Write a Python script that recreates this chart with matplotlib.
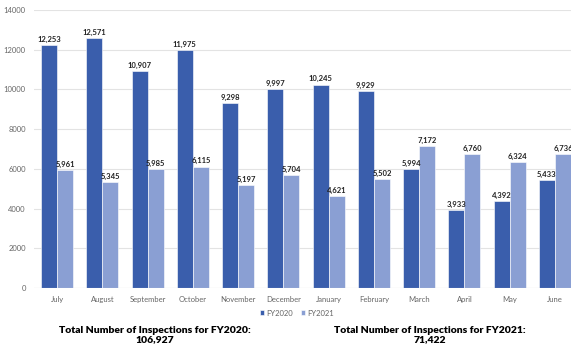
import numpy as np
from matplotlib import pyplot as plt

months = ["July", "August", "September", "October", "November", "December",
          "January", "February", "March", "April", "May", "June"]
fy2020 = [12253, 12571, 10907, 11975, 9298, 9997, 10245, 9929, 5994, 3933, 4392, 5433]
fy2021 = [5961, 5345, 5985, 6115, 5197, 5704, 4621, 5502, 7172, 6760, 6324, 6736]
total_2020 = "106,927"
total_2021 = "71,422"

plt.rcParams['font.family'] = ['Lato', 'DejaVu Sans']

fig = plt.figure(figsize=(5.71, 3.5), dpi=100)
ax = fig.add_axes([34/571, 62/350, 544/571, 278/350])

x = np.arange(len(months))
w = 0.355
b1 = ax.bar(x - w/2, fy2020, w, color="#3A5EAC", edgecolor="white", linewidth=0.4, label="FY2020", zorder=3)
b2 = ax.bar(x + w/2, fy2021, w, color="#8A9FD3", edgecolor="white", linewidth=0.4, label="FY2021", zorder=3)

for bars in (b1, b2):
    ax.bar_label(bars, labels=[f"{v:,}" for v in bars.datavalues], padding=1.5,
                 fontsize=5.5, color="#222222", fontweight="bold")

ax.set_xlim(-0.51, 11.51)
ax.set_ylim(0, 14000)
ax.set_yticks(range(0, 14001, 2000))
ax.set_xticks(x)
ax.set_xticklabels(months)
ax.tick_params(axis="both", length=0, labelsize=5.5, colors="#666666")
ax.tick_params(axis="x", pad=6)
ax.tick_params(axis="y", pad=6)
ax.grid(axis="y", color="#E3E3E3", linewidth=0.8, zorder=0)
for s in ax.spines.values():
    s.set_visible(False)
ax.axhline(0, color="#D9D9D9", linewidth=0.8, zorder=4)

ax.legend(loc="center", bbox_to_anchor=(297/571, 1 - 313/350), bbox_transform=fig.transFigure,
          ncol=2, frameon=False, fontsize=5.5, labelcolor="#666666",
          handlelength=0.6, handleheight=0.6, handletextpad=0.3, columnspacing=1.0)

fig.text(155/571, 1 - 335/350, "Total Number of Inspections for FY2020:\n" + total_2020,
         ha="center", va="center", fontsize=7.5, fontweight="heavy", color="black", linespacing=1.1)
fig.text(430/571, 1 - 335/350, "Total Number of Inspections for FY2021:\n" + total_2021,
         ha="center", va="center", fontsize=7.5, fontweight="heavy", color="black", linespacing=1.1)

plt.savefig("out.png", dpi=100)
